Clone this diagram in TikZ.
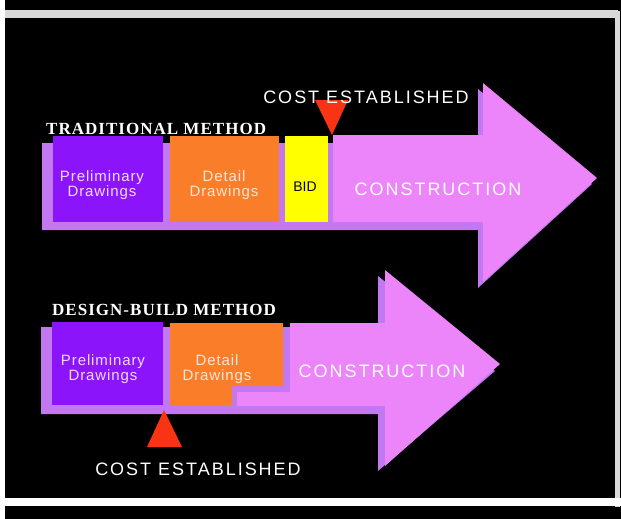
\documentclass[tikz,border=0pt]{standalone}
\usepackage{fontspec}
\setmainfont{Liberation Serif}
\setsansfont{Liberation Sans}
\usetikzlibrary{positioning}
\usetikzlibrary{calc}
\definecolor{prelimcol}{HTML}{8B14FA}
\definecolor{detailcol}{HTML}{FA7D2A}
\definecolor{bidcol}{HTML}{FFFF00}
\definecolor{buildcol}{HTML}{EC84FA}
\definecolor{shadecol}{HTML}{C278F0}
\definecolor{costcol}{HTML}{F83414}
\definecolor{framecol}{HTML}{D8D8D8}
\definecolor{prelimtext}{HTML}{F2DCFF}
\definecolor{detailtext}{HTML}{FFE6D4}
\newfontfamily\wideface{Liberation Sans}[LetterSpace=11]
\newfontfamily\stageface{Liberation Sans}[LetterSpace=6]
\newfontfamily\headface{Liberation Serif}[LetterSpace=6]
\tikzset{
  shade/.style={fill=shadecol},
  build/.style={fill=buildcol},
  costmark/.style={fill=costcol},
  stagetext/.style={inner sep=0pt, align=center, font=\stageface\fontsize{15}{15}\selectfont},
  widetext/.style={inner sep=0pt, anchor=base, font=\wideface\fontsize{18}{20}\selectfont},
  headtext/.style={inner sep=0pt, anchor=base west, text=white, font=\headface\bfseries\fontsize{17}{19}\selectfont}%,
  % frameline/.style={line width=6pt, draw=white}
}
\begin{document}
\begin{tikzpicture}[x=1pt, y=-1pt]
    \useasboundingbox (0,0) rectangle (621,519);
    \fill[black] (0,0) rectangle (621,519);
    \draw[framecol, line width=8pt] (5,14.5) -- (617.5,14.5);
    \draw[framecol, line width=5pt] (617.5,11) -- (617.5,507);
    \draw[white, line width=5pt] (2.5,0) -- (2.5,519);
    \draw[white, line width=8pt] (0,502) -- (621,502);

    % traditional method
    \coordinate (t0) at (53,136);
    \coordinate (ttip) at (597,178);
    \fill[shade] (42,143) -- (478,143) -- (478,89) -- (592,184) -- (478,288) -- (478,230) -- (42,230) -- cycle;
    \fill[build] (333,135) -- (483,135) -- (483,83) -- (ttip) -- (483,282) -- (483,222) -- (333,222) -- cycle;
    \fill[prelimcol] (t0) rectangle (163,222);
    \fill[detailcol] (170,136) rectangle (279,222);
    \fill[bidcol] (285,136) rectangle (328,222);
    \fill[costmark] (315,100) -- (348,100) -- (332,135) -- cycle;

    \node[headtext] (trad) at (46,134) {TRADITIONAL METHOD};
    \node[widetext, text=white] (costA) at (366,103) {COST ESTABLISHED};
    \node[stagetext, text=prelimtext] (preA) at (102,185.5) {Preliminary\\Drawings};
    \node[stagetext, text=detailtext] (detA) at (224,185.5) {Detail\\Drawings};
    \node[inner sep=0pt, anchor=base, font=\sffamily\fontsize{14}{16}\selectfont] (bid) at (305,191) {BID};
    \node[widetext, text=white] (conA) at (438,195) {CONSTRUCTION};

    % design-build method
    \coordinate (d0) at (52,322);
    \coordinate (dtip) at (500,364);
    \fill[shade] (41,327) -- (378,327) -- (378,276) -- (495,371) -- (378,471) -- (378,414) -- (41,414) -- cycle;
    \fill[build] (290,323) -- (385,323) -- (385,270) -- (dtip) -- (385,466) -- (385,406) -- (237,406) -- (237,330) -- (290,330) -- cycle;
    \fill[shade] (177,330) rectangle (290,392);
    \fill[shade] (177,392) rectangle (237,406);
    \fill[prelimcol] (d0) rectangle (163,405);
    \fill[detailcol] (170,323) -- (283,323) -- (283,386) -- (232,386) -- (232,405) -- (170,405) -- cycle;
    \fill[costmark] (147,447) -- (182,447) -- (164,410) -- cycle;

    \node[headtext] (dbm) at (52,315) {DESIGN-BUILD METHOD};
    \node[stagetext, text=prelimtext] (preB) at (103,369.5) {Preliminary\\Drawings};
    \node[stagetext, text=detailtext] (detB) at (217,369) {Detail\\Drawings};
    \node[widetext, text=white] (conB) at (382,377) {CONSTRUCTION};
    \node[widetext, text=white] (costB) at (198,475) {COST ESTABLISHED};
  \end{tikzpicture}
\end{document}
